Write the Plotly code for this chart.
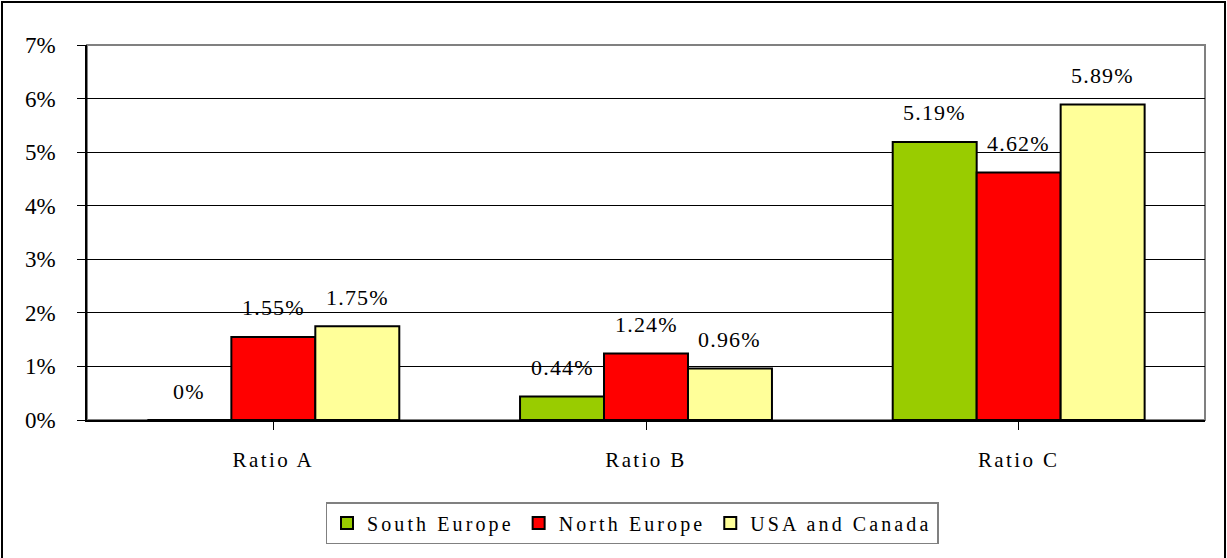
import plotly.graph_objects as go

categories = ["Ratio A", "Ratio B", "Ratio C"]
series_names = ["South Europe", "North Europe", "USA and Canada"]
south_europe = [0.0, 0.44, 5.19]
north_europe = [1.55, 1.24, 4.62]
usa_canada = [1.75, 0.96, 5.89]
value_labels = [["0%", "0.44%", "5.19%"], ["1.55%", "1.24%", "4.62%"], ["1.75%", "0.96%", "5.89%"]]
colors = ["#99CC00", "#FF0000", "#FFFF99"]
y_ticks = [0, 1, 2, 3, 4, 5, 6, 7]

FONT = "Liberation Serif"
W, H = 1227, 558
L, R, T, B = 87, 22, 45, 138
bargap = 0.324

def spaced(s, px):
    return f'<span style="letter-spacing:{px}px">{s}</span>'

fig = go.Figure()
series = [south_europe, north_europe, usa_canada]
for name, vals, col in zip(series_names, series, colors):
    fig.add_trace(go.Bar(
        x=list(range(len(categories))), y=[v / 100 for v in vals], name=spaced(name, 3.1),
        marker=dict(color=col, line=dict(color="black", width=2)),
    ))

bw = (1 - bargap) / 3
ann = []
for j, labels in enumerate(value_labels):
    vals = series[j]
    for i, lab in enumerate(labels):
        ann.append(dict(x=i + (j - 1) * bw, y=vals[i] / 100, xref="x", yref="y",
                        text=spaced(lab, 1.2), showarrow=False, yshift=29,
                        font=dict(family=FONT, size=22, color="black")))

pw = W - L - R
ph = H - T - B
shapes = [
    dict(type="rect", xref="paper", yref="paper", x0=0, x1=1, y0=0, y1=1,
         line=dict(color="#808080", width=2), layer="below"),
    dict(type="rect", xref="paper", yref="paper",
         x0=(2 - L) / pw, x1=(1225 - L) / pw,
         y0=-1.0, y1=(ph + T - 2) / ph,
         line=dict(color="black", width=2)),
]

fig.update_layout(
    width=W, height=H, margin=dict(l=L, r=R, t=T, b=B, autoexpand=False),
    paper_bgcolor="white", plot_bgcolor="white",
    barmode="group", bargap=bargap, bargroupgap=0,
    font=dict(family=FONT, size=20, color="black"),
    showlegend=True,
    legend=dict(orientation="h", x=(632 - L) / pw, xanchor="center",
                y=(ph - (502 - T)) / ph, yanchor="top",
                bordercolor="#808080", borderwidth=1.5, bgcolor="white",
                font=dict(family=FONT, size=20, color="black"),
                itemwidth=30, tracegroupgap=0),
    xaxis=dict(tickmode="array", tickvals=list(range(len(categories))),
               ticktext=[spaced(c, 2.4) for c in categories],
               range=[-0.5, 2.5], tickson="boundaries", ticks="outside", ticklen=8,
               tickcolor="black", showline=True, linecolor="black", linewidth=1.5,
               showgrid=False, tickfont=dict(family=FONT, size=21), ticklabelstandoff=12,
               automargin=False),
    yaxis=dict(range=[0, 0.07], tickvals=[v / 100 for v in y_ticks],
               ticktext=[f"{v}%" for v in y_ticks],
               ticks="outside", ticklen=8, tickcolor="black",
               showline=True, linecolor="black", linewidth=1.5,
               showgrid=True, gridcolor="black", gridwidth=1,
               tickfont=dict(family=FONT, size=23), zeroline=False,
               ticklabelstandoff=17, automargin=False),
    annotations=ann, shapes=shapes,
)
fig.write_html("out.html", config={"displayModeBar": False},
               post_script="document.body.style.margin='0';document.body.style.overflow='hidden';")
